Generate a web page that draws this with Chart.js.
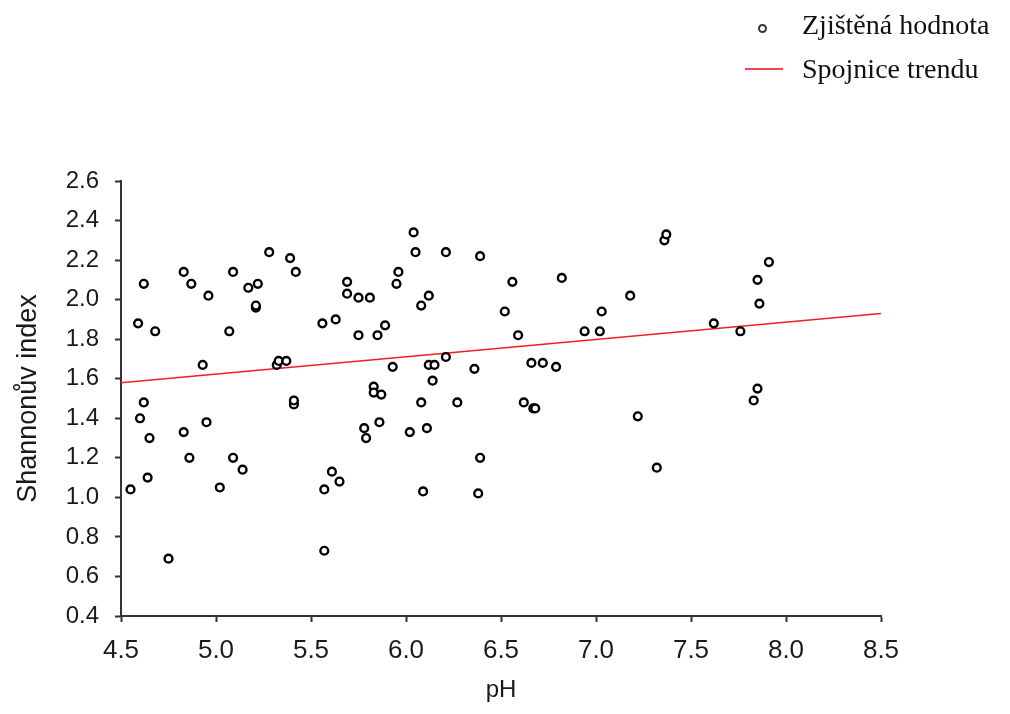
<!DOCTYPE html>
<html>
<head>
<meta charset="utf-8">
<script src="https://cdn.jsdelivr.net/npm/chart.js@4.4.1/dist/chart.umd.min.js"></script>
<style>
  html, body { margin: 0; padding: 0; background: #fff; }
  #wrap { position: relative; width: 1010px; height: 714px; }
  #chart { position: absolute; left: 0; top: 0; }
  .leg { position: absolute; font-family: "Liberation Serif", "Times New Roman", serif; font-size: 28px; line-height: 28px; color: #111; white-space: nowrap; }
  .dot { position: absolute; left: 758px; top: 24px; width: 5px; height: 5px; border: 2.5px solid #333; border-radius: 50%; }
  .ln { position: absolute; left: 745px; top: 68px; width: 38px; height: 2px; background: #f0484c; }
</style>
</head>
<body>
<div id="wrap">
  <canvas id="chart" width="1010" height="714"></canvas>
  <div class="dot"></div>
  <div class="leg" style="left:802px; top:11px;">Zjištěná hodnota</div>
  <div class="ln"></div>
  <div class="leg" style="left:802px; top:55px;">Spojnice trendu</div>
</div>
<script>
// measured values (pH vs. Shannon index)
const phValues = [
  4.55, 4.59, 4.60, 4.62, 4.62, 4.64, 4.65, 4.68, 4.75, 4.83,
  4.83, 4.86, 4.87, 4.93, 4.95, 4.96, 5.02, 5.07, 5.09, 5.09,
  5.14, 5.17, 5.21, 5.21, 5.22, 5.28, 5.32, 5.33, 5.37, 5.39,
  5.41, 5.41, 5.42, 5.56, 5.57, 5.57, 5.61, 5.63, 5.65, 5.69,
  5.69, 5.75, 5.75, 5.78, 5.79, 5.81, 5.83, 5.83, 5.85, 5.86,
  5.87, 5.89, 5.93, 5.95, 5.96, 6.02, 6.04, 6.05, 6.08, 6.08,
  6.09, 6.11, 6.12, 6.12, 6.15, 6.14, 6.21, 6.21, 6.27, 6.36,
  6.38, 6.39, 6.39, 6.52, 6.56, 6.59, 6.62, 6.67, 6.68, 6.66,
  6.72, 6.79, 6.82, 6.94, 7.02, 7.03, 7.18, 7.22, 7.32, 7.36,
  7.37, 7.62, 7.76, 7.83, 7.85, 7.85, 7.86, 7.91
];
const shannonValues = [
  1.04, 1.88, 1.40, 1.48, 2.08, 1.10, 1.30, 1.84, 0.69, 1.33,
  2.14, 1.20, 2.08, 1.67, 1.38, 2.02, 1.05, 1.84, 1.20, 2.14,
  1.14, 2.06, 1.96, 1.97, 2.08, 2.24, 1.67, 1.69, 1.69, 2.21,
  1.47, 1.49, 2.14, 1.88, 1.04, 0.73, 1.13, 1.90, 1.08, 2.09,
  2.03, 2.01, 1.82, 1.35, 1.30, 2.01, 1.56, 1.53, 1.82, 1.38,
  1.52, 1.87, 1.66, 2.08, 2.14, 1.33, 2.34, 2.24, 1.97, 1.48,
  1.03, 1.35, 2.02, 1.67, 1.67, 1.59, 1.71, 2.24, 1.48, 1.65,
  1.02, 1.20, 2.22, 1.94, 2.09, 1.82, 1.48, 1.45, 1.45, 1.68,
  1.68, 1.66, 2.11, 1.84, 1.84, 1.94, 2.02, 1.41, 1.15, 2.30,
  2.33, 1.88, 1.84, 1.49, 1.55, 2.10, 1.98, 2.19
];
// trend line end points
const trendX = [4.5, 8.5];
const trendY = [1.58, 1.93];

const textColor = '#1a1a1a';
const axisColor = '#333';

const ctx = document.getElementById('chart').getContext('2d');
new Chart(ctx, {
  type: 'scatter',
  data: {
    datasets: [
      {
        label: 'Zjištěná hodnota',
        data: phValues.map((x, i) => ({ x: x, y: shannonValues[i] })),
        pointRadius: 3.9,
        pointBorderWidth: 2.4,
        borderColor: '#000',
        backgroundColor: '#fff',
        order: 0
      },
      {
        type: 'line',
        label: 'Spojnice trendu',
        data: trendX.map((x, i) => ({ x: x, y: trendY[i] })),
        borderColor: '#f01e24',
        borderWidth: 1.6,
        pointRadius: 0,
        fill: false,
        order: 1
      }
    ]
  },
  options: {
    responsive: false,
    animation: false,
    layout: { padding: { left: 0, top: 181, right: 129, bottom: 0 } },
    plugins: { legend: { display: false }, tooltip: { enabled: false } },
    scales: {
      x: {
        type: 'linear',
        min: 4.5,
        max: 8.5,
        afterFit: (s) => { s.height = 98; },
        ticks: {
          stepSize: 0.5,
          padding: 13,
          color: textColor,
          font: { family: 'Liberation Sans, Arial, sans-serif', size: 26 },
          callback: (v) => v.toFixed(1)
        },
        grid: { drawOnChartArea: false, drawTicks: true, tickLength: 6, tickColor: axisColor, tickWidth: 2 },
        border: { color: axisColor, width: 2 },
        title: {
          display: true,
          text: 'pH',
          color: textColor,
          font: { family: 'Liberation Sans, Arial, sans-serif', size: 24 },
          padding: { top: 0, bottom: 9 }
        }
      },
      y: {
        min: 0.4,
        max: 2.6,
        afterFit: (s) => { s.width = 121; },
        ticks: {
          stepSize: 0.2,
          padding: 16,
          color: textColor,
          font: { family: 'Liberation Sans, Arial, sans-serif', size: 24 },
          callback: (v) => v.toFixed(1)
        },
        grid: { drawOnChartArea: false, drawTicks: true, tickLength: 6, tickColor: axisColor, tickWidth: 2 },
        border: { color: axisColor, width: 2 },
        title: {
          display: true,
          text: 'Shannonův index',
          color: textColor,
          font: { family: 'Liberation Sans, Arial, sans-serif', size: 27 },
          padding: { top: 12, bottom: 0 }
        }
      }
    }
  }
});
</script>
</body>
</html>
